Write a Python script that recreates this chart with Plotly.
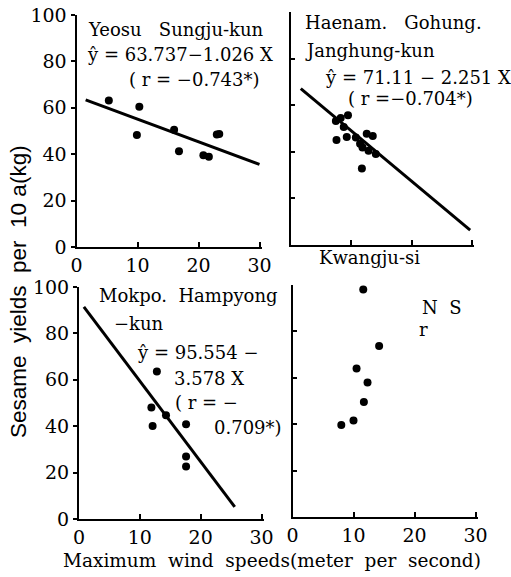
import plotly.graph_objects as go

# ---------------- data ----------------
p1_x = [5.3, 10.3, 9.9, 16.0, 16.8, 20.8, 21.7, 23.0, 23.4]
p1_y = [63.1, 60.5, 48.3, 50.5, 41.3, 39.5, 38.9, 48.5, 48.7]
fit1_x = [1.5, 30.0]
fit1_y = [63.4, 35.6]

p2_x = [7.5, 8.3, 9.5, 8.8, 7.6, 9.3, 10.8, 11.5, 12.6, 13.6, 11.9, 12.9, 14.1, 11.8]
p2_y = [53.2, 54.5, 55.7, 50.6, 45.1, 46.4, 46.1, 43.5, 47.8, 46.8, 41.8, 40.4, 39.1, 32.8]
fit2_x = [1.7, 29.7]
fit2_y = [67.1, 6.4]

p3_x = [12.8, 11.9, 12.1, 14.3, 17.6, 17.6, 17.6]
p3_y = [63.6, 48.1, 40.1, 44.7, 40.8, 26.9, 22.6]
fit3_x = [0.8, 25.6]
fit3_y = [91.4, 5.2]

p4_x = [11.6, 14.2, 10.5, 12.3, 11.7, 10.0, 8.0]
p4_y = [98.1, 73.7, 64.0, 58.0, 49.6, 41.6, 39.7]

x_ticks = [0, 10, 20, 30]
y_ticks = [0, 20, 40, 60, 80, 100]

W, H = 511, 577
SERIF = "DejaVu Serif"


def px(x):
    return x / W


def py(y):
    return 1 - y / H


fig = go.Figure()

panels = [
    (p1_x, p1_y, fit1_x, fit1_y, "x", "y"),
    (p2_x, p2_y, fit2_x, fit2_y, "x2", "y2"),
    (p3_x, p3_y, fit3_x, fit3_y, "x3", "y3"),
    (p4_x, p4_y, None, None, "x4", "y4"),
]
for xs, ys, fx, fy, xa, ya in panels:
    if fx is not None:
        fig.add_trace(go.Scatter(x=fx, y=fy, mode="lines", xaxis=xa, yaxis=ya,
                                 line=dict(color="black", width=3), showlegend=False,
                                 hoverinfo="skip"))
    fig.add_trace(go.Scatter(x=xs, y=ys, mode="markers", xaxis=xa, yaxis=ya,
                             marker=dict(color="black", size=8), showlegend=False))

# pixel geometry of each panel in the window: (x0, x30, y0, y100)
geo = {
    1: (76.5, 259.5, 247, 15),
    2: (290.5, 472, 245, 12),
    3: (79, 261.5, 519, 287),
    4: (292.5, 475.5, 517, 285),
}


def xaxis_cfg(n, labels, anchor):
    x0, x30, _, _ = geo[n]
    return dict(domain=[px(x0), px(x30 + 2)], range=[0, 30 * (x30 + 2 - x0) / (x30 - x0)],
                anchor=anchor, automargin=False, showgrid=False, zeroline=False, showline=True,
                linecolor="black", linewidth=2, ticks="inside", ticklen=5, tickwidth=2,
                tickcolor="black", tickvals=x_ticks, showticklabels=labels,
                tickfont=dict(family=SERIF, size=19, color="black"))


def yaxis_cfg(n, labels, anchor, tickdir):
    _, _, y0, y100 = geo[n]
    return dict(domain=[py(y0), py(y100)], range=[0, 100],
                anchor=anchor, automargin=False, showgrid=False, zeroline=False, showline=True,
                linecolor="black", linewidth=2, ticks=tickdir, ticklen=4, tickwidth=2,
                tickcolor="black", tickvals=y_ticks, showticklabels=labels,
                tickfont=dict(family=SERIF, size=19, color="black"))


fig.update_layout(
    width=W, height=H,
    margin=dict(l=0, r=0, t=0, b=0),
    paper_bgcolor="white", plot_bgcolor="white",
    hovermode=False,
    xaxis=xaxis_cfg(1, True, "y"),
    yaxis=yaxis_cfg(1, True, "x", "outside"),
    xaxis2=xaxis_cfg(2, False, "y2"),
    yaxis2=yaxis_cfg(2, False, "x2", "inside"),
    xaxis3=xaxis_cfg(3, True, "y3"),
    yaxis3=yaxis_cfg(3, True, "x3", "outside"),
    xaxis4=xaxis_cfg(4, True, "y4"),
    yaxis4=yaxis_cfg(4, False, "x4", "inside"),
)

texts = [
    ("Yeosu   Sungju-kun", 86, 29),
    ("ŷ = 63.737−1.026 X", 85, 55),
    ("( r = −0.743*)", 127, 80),
    ("Haenam.   Gohung.", 303, 23),
    ("Janghung-kun", 303, 50),
    ("ŷ = 71.11 − 2.251 X", 323, 78),
    ("( r =−0.704*)", 346, 98),
    ("Kwangju-si", 317, 257),
    ("Mokpo.  Hampyong", 97, 295),
    ("−kun", 112, 323),
    ("ŷ = 95.554 −", 135, 353),
    ("3.578 X", 172, 378),
    ("( r = −", 173, 402),
    ("0.709*)", 212, 427),
    ("N  S", 420, 307),
    ("r", 417, 330),
]
for t, x, y in texts:
    fig.add_annotation(text=t, x=px(x), y=py(y), xref="paper", yref="paper",
                       xanchor="left", yanchor="middle", showarrow=False,
                       font=dict(family=SERIF, size=18, color="black"))

fig.add_annotation(text="Maximum  wind  speeds(meter  per  second)", x=px(272), y=py(560),
                   xref="paper", yref="paper", xanchor="center", yanchor="middle",
                   showarrow=False, font=dict(family=SERIF, size=18.5, color="black"))
fig.add_annotation(text="Sesame  yields  per  10 a(kg)", x=px(19), y=py(292),
                   xref="paper", yref="paper", xanchor="center", yanchor="middle",
                   textangle=-90, showarrow=False,
                   font=dict(family="Liberation Sans", size=22.5, color="black"))

# remove the default 8px page margin so the figure fills the window exactly
fig.write_html("out.html", config={"displayModeBar": False},
               post_script="document.body.style.margin='0px';")
